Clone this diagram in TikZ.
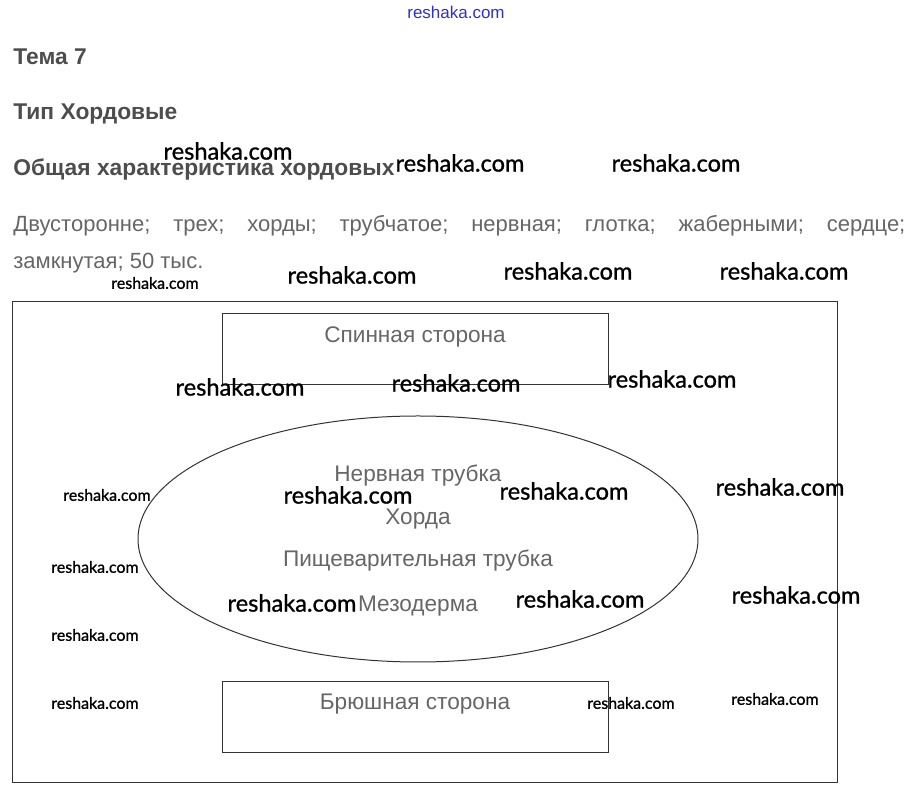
\documentclass[tikz,border=0pt]{standalone}
\usepackage{fontspec}
\setmainfont{Liberation Sans}
\newfontfamily\wmfont[FakeBold=1]{Lato}
\usetikzlibrary{shapes.geometric}
\definecolor{chhead}{HTML}{4D4D4D}
\definecolor{chtext}{HTML}{666666}
\definecolor{chline}{HTML}{333333}
\definecolor{chblue}{HTML}{3030C8}

\begin{document}
\begin{tikzpicture}[x=0.5pt, y=-0.5pt,
  head/.style={anchor=base west, inner sep=0pt,
               font=\fontsize{11.4}{13}\selectfont\bfseries, text=chhead},
  txt/.style={anchor=base west, inner sep=0pt,
              font=\fontsize{11}{13}\selectfont, text=chtext},
  part/.style={anchor=base, inner sep=0pt,
               font=\fontsize{11.3}{13}\selectfont, text=chtext},
  side/.style={draw=chline, line width=0.5pt, inner sep=0pt,
               minimum width=193pt, minimum height=35.5pt},
  wm/.style={inner sep=0pt, font=\wmfont\fontsize{11.8}{13}\selectfont},
  wmsmall/.style={inner sep=0pt, font=\wmfont\fontsize{8}{10}\selectfont}]

\useasboundingbox (0,0) rectangle (912,801);

% ---- heading ---------------------------------------------------------
\node[inner sep=0pt, font=\fontsize{8.5}{10}\selectfont, text=chblue]
     (site) at (456,12) {reshaka.com};
\node[head] (topic) at (13,65) {Тема 7};
\node[head] (phylum) at (13,120) {Тип Хордовые};
\node[head] (summary) at (13,176) {Общая характеристика хордовых};
\node[txt] (answer1) at (13,231.5)
  {\makebox[446pt][s]{Двусторонне; трех; хорды; трубчатое; нервная; глотка; жаберными; сердце;}};
\node[txt] (answer2) at (13,268.5) {замкнутая; 50 тыс.};

% ---- body plan -------------------------------------------------------
\node[draw=chline, line width=0.5pt, inner sep=0pt,
      minimum width=412.5pt, minimum height=240.5pt] (frame) at (424.5,542.5) {};

\node[side] (dorsal) at (415,349.5) {};
\node[part] (dorsaltxt) at (415,343) {Спинная сторона};

\node[draw=chline, line width=0.5pt, ellipse, inner sep=0pt,
      minimum width=280pt, minimum height=123pt] (trunk) at (418,539) {};
\node[part] (neural) at (418,481.5) {Нервная трубка};
\node[part] (chord) at (418,525) {Хорда};
\node[part] (gut) at (418,566.5) {Пищеварительная трубка};
\node[part] (meso) at (418,611.5) {Мезодерма};

\node[side] (ventral) at (415,717) {};
\node[part] (ventraltxt) at (415,710) {Брюшная сторона};

% ---- watermarks ------------------------------------------------------
\foreach \x/\y [count=\i] in {228/151, 460/163, 676/163, 352/275, 568/271,
    784/271, 240/387, 456/383, 672/379, 348/495, 564/491, 780/487,
    292/603, 580/599, 796/595}
  \node[wm] (wm\i) at (\x,\y) {reshaka.com};
\foreach \x/\y [count=\i] in {155/283, 107/495, 95/567, 95/635, 95/703,
    631/703, 775/699}
  \node[wmsmall] (wms\i) at (\x,\y) {reshaka.com};
\end{tikzpicture}
\end{document}
